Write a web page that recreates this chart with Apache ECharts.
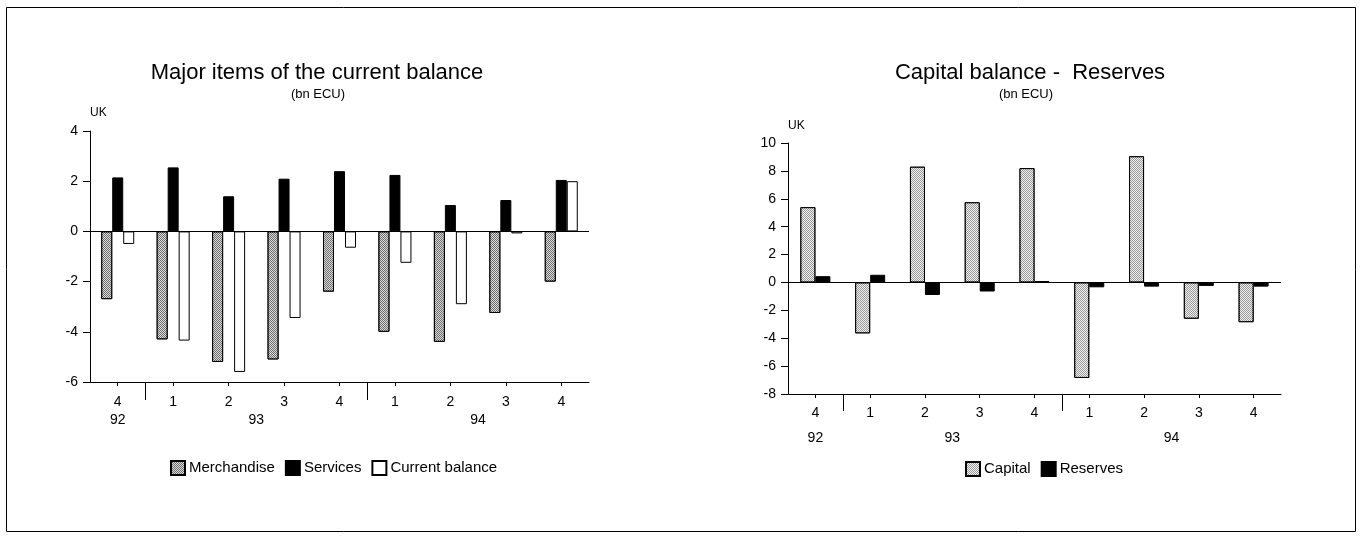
<!DOCTYPE html>
<html><head><meta charset="utf-8">
<script src="https://cdn.jsdelivr.net/npm/echarts@6/dist/echarts.min.js"></script>
<style>html,body{margin:0;padding:0;background:#fff}#c{width:1360px;height:538px}</style>
</head><body><div id="c"></div>
<script>
// ---- data ----
const quarterLabels = ['4','1','2','3','4','1','2','3','4'];
const quarterYears  = ['92','93','93','93','93','94','94','94','94'];
const merchandise    = [-2.7, -4.3, -5.2, -5.1, -2.4, -4.0, -4.4, -3.25, -2.0];
const services       = [2.15, 2.55, 1.4, 2.1, 2.4, 2.25, 1.05, 1.25, 2.05];
const currentBalance = [-0.5, -4.35, -5.6, -3.45, -0.65, -1.25, -2.9, -0.08, 2.0];
const capital        = [5.4, -3.65, 8.3, 5.75, 8.2, -6.85, 9.05, -2.6, -2.85];
const reserves       = [0.45, 0.55, -0.9, -0.65, 0.1, -0.35, -0.3, -0.25, -0.3];
const leftYTicks  = {min: -6, max: 4, interval: 2};
const rightYTicks = {min: -8, max: 10, interval: 2};
const leftTitle = 'Major items of the current balance';
const rightTitle = 'Capital balance -  Reserves';
const unitText = '(bn ECU)';
const countryName = 'UK';

// ---- derived ----
const categories = quarterYears.map((y, i) => y + 'Q' + quarterLabels[i] + '#' + i);
const yearGroups = [];
quarterYears.forEach((y, i) => {
  const g = yearGroups[yearGroups.length - 1];
  if (g && g.year === y) g.last = i; else yearGroups.push({year: y, first: i, last: i});
});
const separators = yearGroups.slice(1).map(g => g.first);

const FONT = '"Liberation Sans", Arial, Helvetica, sans-serif';
const BLACK = '#000';

function xAxisFor(gridIndex, margin) {
  return {
    type: 'category', gridIndex, data: categories,
    axisLine: {show: true, onZero: false, lineStyle: {color: BLACK, width: 1}},
    axisTick: {show: true, alignWithLabel: true, length: 4, lineStyle: {color: BLACK}},
    axisLabel: {show: true, margin, fontSize: 14, color: BLACK, fontFamily: FONT,
      formatter: (v, i) => quarterLabels[i]},
    splitLine: {show: false}
  };
}
function yAxisFor(gridIndex, t, nameGap) {
  return {
    type: 'value', gridIndex, min: t.min, max: t.max, interval: t.interval,
    name: countryName, nameLocation: 'end', nameGap,
    nameTextStyle: {fontSize: 12, color: BLACK, fontFamily: FONT, align: 'left', verticalAlign: 'bottom'},
    axisLine: {show: true, lineStyle: {color: BLACK, width: 1}},
    axisTick: {show: true, length: 7, lineStyle: {color: BLACK}},
    axisLabel: {margin: 12, fontSize: 14, color: BLACK, fontFamily: FONT},
    splitLine: {show: false}
  };
}
function separatorSeries(idx, yMin, len) {
  return {
    type: 'custom', xAxisIndex: idx, yAxisIndex: idx, clip: false, silent: true, z: 5,
    data: separators.map(s => [s, yMin]),
    renderItem(params, api) {
      const p = api.coord([api.value(0), api.value(1)]);
      const band = api.size([1, 0])[0];
      const x = Math.round(p[0] - band / 2) + 0.5;
      return {type: 'line', shape: {x1: x, y1: p[1], x2: x, y2: p[1] + len},
        style: {stroke: BLACK, lineWidth: 1}};
    }
  };
}
function yearSeries(idx, yMin, gap) {
  return {
    type: 'custom', xAxisIndex: idx, yAxisIndex: idx, clip: false, silent: true, z: 5,
    data: yearGroups.map(g => [g.first, yMin, g.last]),
    renderItem(params, api) {
      const a = api.coord([api.value(0), api.value(1)]);
      const b = api.coord([api.value(2), api.value(1)]);
      return {type: 'text', x: (a[0] + b[0]) / 2, y: a[1] + gap,
        style: {text: yearGroups[params.dataIndex].year, align: 'center', verticalAlign: 'middle',
          fontSize: 14, fontFamily: FONT, fill: BLACK}};
    }
  };
}
const zeroLine = {silent: true, symbol: 'none', label: {show: false},
  lineStyle: {color: BLACK, type: 'solid', width: 1}, data: [{yAxis: 0}]};
function stipple(base, dot) {
  return {color: base, borderColor: BLACK, borderWidth: 1,
    decal: {symbol: 'rect', symbolSize: 1, color: dot, dashArrayX: [[1, 1], [0, 1, 1, 0]], dashArrayY: [1, 0], rotation: 0}};
}

const option = {
  backgroundColor: '#fff',
  animation: false,
  textStyle: {fontFamily: FONT},
  graphic: [{type: 'rect', shape: {x: 6.5, y: 7.5, width: 1349, height: 524},
    style: {fill: 'none', stroke: BLACK, lineWidth: 1}, silent: true}],
  title: [
    {text: leftTitle, left: 312, top: 57, textAlign: 'center',
      textStyle: {fontSize: 22, fontWeight: 'normal', color: BLACK, fontFamily: FONT}},
    {text: unitText, left: 313, top: 83, textAlign: 'center',
      textStyle: {fontSize: 13, fontWeight: 'normal', color: BLACK, fontFamily: FONT}},
    {text: rightTitle, left: 1025, top: 57, textAlign: 'center',
      textStyle: {fontSize: 22, fontWeight: 'normal', color: BLACK, fontFamily: FONT}},
    {text: unitText, left: 1021, top: 83, textAlign: 'center',
      textStyle: {fontSize: 13, fontWeight: 'normal', color: BLACK, fontFamily: FONT}}
  ],
  legend: [
    {data: ['Merchandise', 'Services', 'Current balance'], left: 165, top: 455,
      icon: 'rect', itemWidth: 14, itemHeight: 14, itemGap: 10,
      textStyle: {fontSize: 15, color: BLACK, fontFamily: FONT, padding: [0, 0, 0, -1]}},
    {data: ['Capital', 'Reserves'], left: 960, top: 456,
      icon: 'rect', itemWidth: 14, itemHeight: 14, itemGap: 10,
      textStyle: {fontSize: 15, color: BLACK, fontFamily: FONT, padding: [0, 0, 0, -1]}}
  ],
  grid: [
    {left: 90, top: 131, width: 499, height: 251},
    {left: 788, top: 143, width: 493, height: 251}
  ],
  xAxis: [xAxisFor(0, 13), xAxisFor(1, 12)],
  yAxis: [yAxisFor(0, leftYTicks, 12), yAxisFor(1, rightYTicks, 11)],
  series: [
    {name: 'Merchandise', type: 'bar', xAxisIndex: 0, yAxisIndex: 0, data: merchandise,
      barWidth: 11, barGap: '0%', itemStyle: stipple('#6e6e6e', 'rgba(255,255,255,0.75)'), markLine: zeroLine},
    {name: 'Services', type: 'bar', xAxisIndex: 0, yAxisIndex: 0, data: services,
      barWidth: 11, barGap: '0%', itemStyle: {color: '#000', borderColor: BLACK, borderWidth: 1}},
    {name: 'Current balance', type: 'bar', xAxisIndex: 0, yAxisIndex: 0, data: currentBalance,
      barWidth: 11, barGap: '0%', itemStyle: {color: '#fff', borderColor: BLACK, borderWidth: 1}},
    separatorSeries(0, leftYTicks.min, 18),
    yearSeries(0, leftYTicks.min, 38),
    {name: 'Capital', type: 'bar', xAxisIndex: 1, yAxisIndex: 1, data: capital,
      barWidth: 15, barGap: '0%', itemStyle: stipple('#999999', 'rgba(255,255,255,0.85)'), markLine: zeroLine},
    {name: 'Reserves', type: 'bar', xAxisIndex: 1, yAxisIndex: 1, data: reserves,
      barWidth: 15, barGap: '0%', itemStyle: {color: '#000', borderColor: BLACK, borderWidth: 1}},
    separatorSeries(1, rightYTicks.min, 17),
    yearSeries(1, rightYTicks.min, 44)
  ]
};
const chart = echarts.init(document.getElementById('c'), null, {renderer: 'canvas'});
chart.setOption(option);
</script></body></html>
